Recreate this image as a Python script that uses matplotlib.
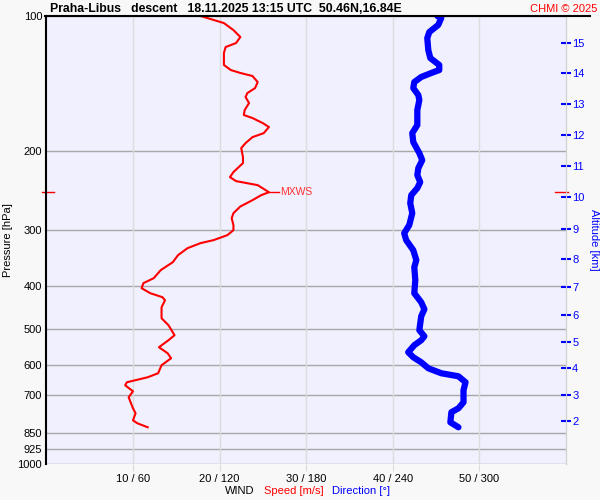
import matplotlib
matplotlib.use("Agg")
import matplotlib.pyplot as plt
import matplotlib.transforms as mtransforms

plt.rcParams['font.family'] = ['Liberation Sans', 'DejaVu Sans']

# wind speed profile (pressure hPa, speed m/s)
speed_p = [100, 103.7, 107.5, 111.4, 114.9, 117.3, 120.9, 128.6, 132.0, 134.0, 136.1, 140.4,
           144.8, 148.6, 151.6, 156.4, 162.1, 166.3, 168.9, 173.4, 176.9, 182.5, 186.3, 192.1,
           197.1, 206.4, 212.9, 222.9, 228.8, 233.5, 238.4, 247.2, 251.0, 257.5, 266.0, 275.3,
           282.5, 292.8, 300.4, 308.2, 316.2, 321.1, 329.5, 341.6, 354.1, 368.9, 384.4, 394.4,
           404.8, 415.3, 423.9, 430.5, 446.3, 472.3, 489.5, 515.3, 528.7, 548.1, 565.3, 580.0,
           601.3, 626.5, 639.5, 656.1, 666.4, 687.3, 708.8, 749.9, 769.4, 797.6, 810.0, 826.8]
speed = [17.8, 20.5, 21.6, 22.4, 21.9, 20.7, 20.5, 20.5, 21.3, 22.4, 23.8, 24.4,
         24.1, 23.2, 23.0, 23.4, 22.9, 22.8, 23.8, 25.0, 25.7, 25.1, 23.8, 23.0,
         22.5, 22.7, 22.7, 21.6, 21.2, 21.9, 24.4, 25.7, 24.8, 23.8, 22.4, 21.6,
         21.4, 21.6, 21.6, 20.9, 19.3, 17.8, 16.3, 15.2, 14.6, 13.2, 12.4, 11.2,
         11.0, 12.0, 13.4, 13.7, 13.3, 13.3, 14.1, 14.8, 14.1, 13.0, 14.0, 14.4,
         13.3, 12.9, 11.7, 9.3, 9.1, 10.0, 9.5, 10.0, 10.3, 10.0, 10.5, 11.7]

# wind direction profile (pressure hPa, direction deg)
dir_p = [100, 101.0, 104.7, 108.6, 112.0, 119.1, 124.1, 128.6, 132.0, 134.0, 136.8, 140.4,
         144.8, 150.1, 154.0, 162.1, 175.1, 182.5, 191.1, 202.2, 209.7, 218.4, 226.4, 234.7,
         242.1, 251.0, 261.5, 275.3, 292.8, 305.1, 316.2, 332.9, 350.5, 363.3, 388.4, 415.3,
         435.0, 451.0, 467.5, 502.3, 518.0, 528.7, 542.5, 562.3, 577.0, 592.1, 610.6, 626.5,
         636.3, 656.1, 683.8, 727.2, 749.9, 765.4, 806.0, 826.8]
direction = [270.9, 273.6, 271.5, 265.3, 263.9, 264.6, 266.0, 272.2, 272.2, 266.7, 259.7, 254.9,
             254.2, 257.7, 258.4, 257.0, 257.0, 253.5, 254.2, 258.4, 260.4, 257.7, 257.0, 259.0,
             257.0, 252.8, 252.1, 253.5, 251.4, 247.9, 249.3, 254.2, 256.3, 254.9, 255.6, 254.9,
             259.7, 261.9, 259.7, 258.4, 261.9, 259.7, 254.9, 250.7, 254.2, 259.7, 264.6, 273.6,
             285.5, 290.4, 289.0, 289.0, 285.5, 280.6, 279.9, 285.5]

p_ticks = [100, 200, 300, 400, 500, 600, 700, 850, 925, 1000]
x_ticks = [10, 20, 30, 40, 50]
x_labels = ["10 / 60", "20 / 120", "30 / 180", "40 / 240", "50 / 300"]
alt_km = [2, 3, 4, 5, 6, 7, 8, 9, 10, 11, 12, 13, 14, 15]
alt_p = [802, 701, 611, 534, 465, 403, 349, 299, 254, 216, 184, 157, 134, 114.9]
mxws_p = 247.2
mxws_speed = 25.7

fig = plt.figure(figsize=(6, 5), dpi=100, facecolor='#F8F8F8')
ax = fig.add_axes([0.0773, 0.0714, 0.866, 0.8966])
ax.set_facecolor('#F0F0FF')
ax.set_yscale('log')
ax.set_ylim(1000, 100)
ax.set_xlim(0, 60)

ax.set_yticks(p_ticks)
ax.set_yticklabels([str(p) for p in p_ticks])
ax.minorticks_off()
ax.set_xticks(x_ticks)
ax.set_xticklabels(x_labels)
ax.tick_params(axis='y', length=0, labelsize=8, pad=3)
ax.tick_params(axis='x', length=5, color='#DCDCDC', labelsize=8, pad=2)

for p in p_ticks:
    ax.axhline(p, color='#A8A8A8', lw=1.0, zorder=1)
for x in x_ticks:
    ax.axvline(x, color='#DCDCDC', lw=1.0, zorder=1)

for s in ['top', 'bottom']:
    ax.spines[s].set_visible(False)
ax.spines['left'].set_color('black')
ax.spines['left'].set_linewidth(1.5)
ax.spines['right'].set_color('#D0D0D0')

# direction plotted on speed scale: 60 deg == 10 m/s
ax.plot([d / 6 for d in direction], dir_p, color='#0000FF', lw=4.5,
        solid_capstyle='round', solid_joinstyle='round', zorder=3)
ax.plot(speed, speed_p, color='#FF0000', lw=1.5, zorder=4)

# max wind marker
trans = mtransforms.blended_transform_factory(ax.transAxes, ax.transData)
ax.plot([-0.009, 0.015], [mxws_p, mxws_p], color='red', lw=1, transform=trans, clip_on=False)
ax.plot([0.979, 1.004], [mxws_p, mxws_p], color='red', lw=1, transform=trans, clip_on=False,
        zorder=5)
ax.plot([mxws_speed, mxws_speed + 1.2], [mxws_p, mxws_p], color='red', lw=1)
ax.text(mxws_speed + 1.3, mxws_p, "MXWS", color='#FF3030', fontsize=7.5, va='center', ha='left')

ax.set_ylabel("Pressure [hPa]", fontsize=8, labelpad=3)

ax2 = ax.twinx()
ax2.set_yscale('log')
ax2.set_ylim(1000, 100)
ax2.set_yticks(alt_p)
ax2.set_yticklabels([str(k) for k in alt_km])
ax2.minorticks_off()
ax2.tick_params(axis='y', colors='#0000FF', direction='inout', length=7, width=1.5,
                labelsize=8, pad=1)
ax2.tick_params(axis='y', labelcolor='#0000FF')
for s in ['top', 'bottom', 'left']:
    ax2.spines[s].set_visible(False)
ax2.spines['right'].set_color('#D0D0D0')
ax2.set_ylabel("Altitude [km]", color='#0000FF', fontsize=8, rotation=270, labelpad=10)

# top border line
fig.add_artist(plt.Line2D([45 / 600, 590 / 600], [1 - 16 / 500, 1 - 16 / 500],
                          color='black', lw=1.5, transform=fig.transFigure))

fig.text(50 / 600, 1 - 9 / 500, "Praha-Libus   descent   18.11.2025 13:15 UTC  50.46N,16.84E",
         fontsize=8.8, fontweight='bold', va='center', ha='left')
fig.text(597 / 600, 1 - 9 / 500, "CHMI © 2025", color='red', fontsize=8, va='center', ha='right')

fig.text(225 / 600, 1 - 491 / 500, "WIND", fontsize=8, va='center', ha='left')
fig.text(264 / 600, 1 - 491 / 500, "Speed [m/s]", color='red', fontsize=8, va='center', ha='left')
fig.text(332 / 600, 1 - 491 / 500, "Direction [°]", color='#0000FF', fontsize=8, va='center', ha='left')

fig.savefig("out.png", dpi=100, facecolor=fig.get_facecolor())
